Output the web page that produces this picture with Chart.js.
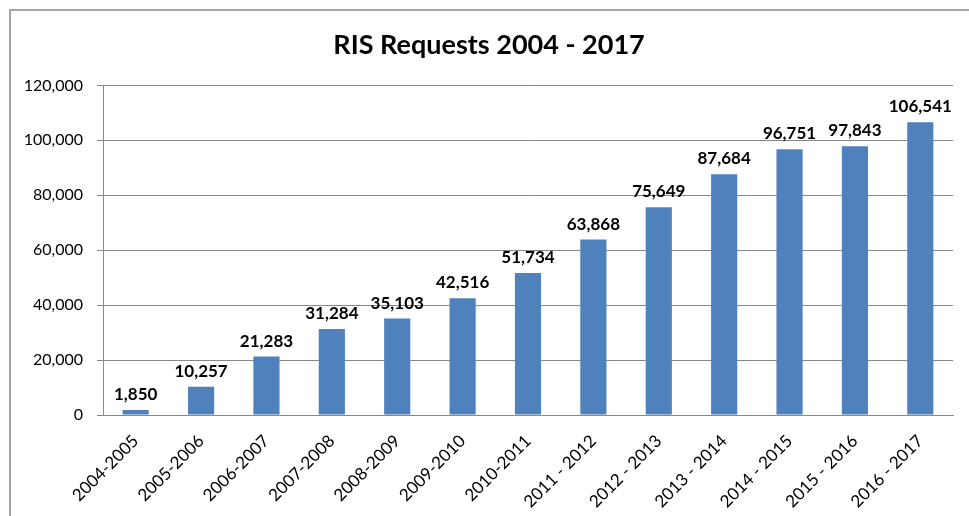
<!DOCTYPE html>
<html>
<head>
<meta charset="utf-8">
<script src="https://cdn.jsdelivr.net/npm/chart.js@4.4.1/dist/chart.umd.min.js"></script>
<style>
  html, body { margin: 0; padding: 0; background: #fff; }
  #wrap { position: relative; width: 969px; height: 516px; overflow: hidden; }
  #frame { position: absolute; left: 9px; top: 9px; width: 1000px; height: 600px; border: 2px solid #a6a6a6; box-sizing: border-box; }
  canvas { position: absolute; left: 0; top: 0; }
</style>
</head>
<body>
<div id="wrap">
  <div id="frame"></div>
  <canvas id="risChart" width="969" height="516"></canvas>
</div>
<script>
    const FONT = 'Lato, "Open Sans", sans-serif';
    const BAR_BLUE = '#4f81bd';

    const categories = [
        '2004-2005', '2005-2006', '2006-2007', '2007-2008', '2008-2009', '2009-2010', '2010-2011',
        '2011 - 2012', '2012 - 2013', '2013 - 2014', '2014 - 2015', '2015 - 2016', '2016 - 2017'
    ];
    const requests = [1850, 10257, 21283, 31284, 35103, 42516, 51734, 63868, 75649, 87684, 96751, 97843, 106541];
    const yTicks = [0, 20000, 40000, 60000, 80000, 100000, 120000];

    const fmt = (v) => v.toLocaleString('en-US');

    // value labels above each bar
    const barValueLabels = {
        id: 'barValueLabels',
        afterDatasetsDraw(chart) {
            const { ctx } = chart;
            const meta = chart.getDatasetMeta(0);
            ctx.save();
            ctx.font = `bold 17px ${FONT}`;
            ctx.fillStyle = '#000';
            ctx.textAlign = 'center';
            ctx.textBaseline = 'bottom';
            meta.data.forEach((bar, i) => {
                ctx.fillText(fmt(requests[i]), bar.x, bar.y - 7);
            });
            ctx.restore();
        }
    };

    new Chart(document.getElementById('risChart'), {
        type: 'bar',
        data: {
            labels: categories,
            datasets: [{
                data: requests,
                backgroundColor: BAR_BLUE,
                borderWidth: 0,
                barPercentage: 0.4,
                categoryPercentage: 1,
            }],
        },
        options: {
            responsive: false,
            animation: false,
            layout: { padding: { left: 25, right: 16, top: 0, bottom: 0 } },
            plugins: {
                legend: { display: false },
                tooltip: { enabled: false },
                title: {
                    display: true,
                    text: 'RIS Requests 2004 - 2017',
                    color: '#000',
                    font: { family: FONT, size: 27, weight: 'bold', lineHeight: 1.2 },
                    padding: { top: 29, bottom: 24 },
                },
            },
            scales: {
                x: {
                    grid: { display: false, drawOnChartArea: false },
                    border: { color: '#888', width: 1 },
                    ticks: {
                        color: '#000',
                        font: { family: FONT, size: 17 },
                        minRotation: 45,
                        maxRotation: 45,
                        padding: 8,
                    },
                    afterFit: (s) => { s.height = 101; },
                },
                y: {
                    min: 0,
                    max: 120000,
                    afterBuildTicks: (s) => { s.ticks = yTicks.map((v) => ({ value: v })); },
                    grid: { color: '#888', tickLength: 6, drawTicks: true },
                    border: { color: '#888', width: 1 },
                    ticks: {
                        color: '#000',
                        font: { family: FONT, size: 16 },
                        padding: 14,
                        callback: (v) => fmt(v),
                    },
                    afterFit: (s) => { s.width = 78; },
                },
            },
        },
        plugins: [barValueLabels],
    });
</script>
</body>
</html>
